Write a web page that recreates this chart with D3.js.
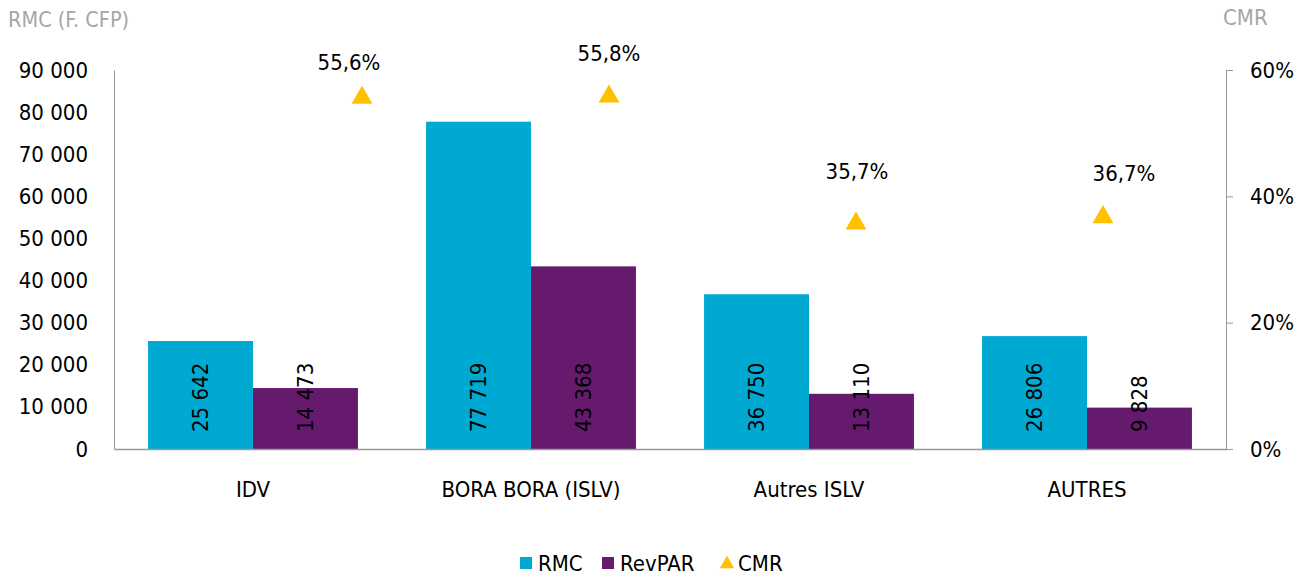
<!DOCTYPE html>
<html>
<head>
<meta charset="utf-8">
<script src="https://cdn.jsdelivr.net/npm/d3@7"></script>
<style>
  body { margin: 0; background: #fff; }
  text { font-family: "DejaVu Sans Condensed", "DejaVu Sans", sans-serif; }
</style>
</head>
<body>
<svg id="chart"></svg>
<script>
var width = 1309;
var height = 579;

var categories = ["IDV", "BORA BORA (ISLV)", "Autres ISLV", "AUTRES"];
var rmc = [25642, 77719, 36750, 26806];
var revpar = [14473, 43368, 13110, 9828];
var cmr = [55.6, 55.8, 35.7, 36.7];
var leftTicks = [0, 10000, 20000, 30000, 40000, 50000, 60000, 70000, 80000, 90000];
var rightTicks = [0, 20, 40, 60];

var plotLeft = 114, plotRight = 1226, plotTop = 70, plotBottom = 449;
var fontSize = 22;
// hand-placed CMR labels (dx, dy from the marker)
var cmrLabelNudge = [[-13, -28], [0, -36], [1, -44], [21, -36]];

var fmtNum = n => d3.format(",")(n).replace(/,/g, " ");
var fmtPct = n => n.toFixed(1).replace(".", ",") + "%";

var svg = d3.select("#chart")
    .attr("width", width)
    .attr("height", height);

var xScale = d3.scaleBand()
    .domain(categories)
    .range([plotLeft, plotRight])
    .paddingInner(0.245)
    .paddingOuter(0.1225);

var yScale = d3.scaleLinear()
    .domain([0, 90000])
    .range([plotBottom, plotTop]);

var y2Scale = d3.scaleLinear()
    .domain([0, 60])
    .range([plotBottom, plotTop]);

// line series sits on its own category positions
var x2Scale = d3.scalePoint()
    .domain(categories)
    .range([362, 1103]);

var half = xScale.bandwidth() / 2;

// bars
svg.append("g").selectAll("rect")
    .data(rmc)
    .enter()
    .append("rect")
    .attr("x", (d, i) => xScale(categories[i]))
    .attr("y", d => yScale(d))
    .attr("width", half)
    .attr("height", d => plotBottom - yScale(d))
    .attr("fill", "#00a9d1");

svg.append("g").selectAll("rect")
    .data(revpar)
    .enter()
    .append("rect")
    .attr("x", (d, i) => xScale(categories[i]) + half)
    .attr("y", d => yScale(d))
    .attr("width", half)
    .attr("height", d => plotBottom - yScale(d))
    .attr("fill", "#661a6e");

// value labels inside bars
function barLabels(data, off) {
    svg.append("g").selectAll("text")
        .data(data)
        .enter()
        .append("text")
        .attr("transform", (d, i) => "translate(" + (xScale(categories[i]) + off + half / 2) + "," + (plotBottom - 17) + ") rotate(-90)")
        .attr("dy", "0.35em")
        .attr("font-size", fontSize)
        .attr("fill", "#000")
        .text(d => fmtNum(d));
}
barLabels(rmc, 0);
barLabels(revpar, half);

// axes
var yAxis = d3.axisLeft(yScale)
    .tickValues(leftTicks)
    .tickSize(0)
    .tickPadding(26)
    .tickFormat(fmtNum);
var gy = svg.append("g")
    .attr("transform", "translate(" + plotLeft + ",0)")
    .call(yAxis);
gy.select(".domain").attr("stroke", "#999");
gy.selectAll("text").attr("font-size", fontSize).attr("fill", "#000").attr("font-family", null);

var y2Axis = d3.axisRight(y2Scale)
    .tickValues(rightTicks)
    .tickSizeInner(7)
    .tickSizeOuter(7)
    .tickPadding(17)
    .tickFormat(d => d + "%");
var gy2 = svg.append("g")
    .attr("transform", "translate(" + plotRight + ",0)")
    .call(y2Axis);
gy2.select(".domain").attr("stroke", "#999");
gy2.selectAll("line").attr("stroke", "#999");
gy2.selectAll("text").attr("font-size", fontSize).attr("fill", "#000").attr("font-family", null);

var xAxis = d3.axisBottom(xScale)
    .tickSize(0)
    .tickSizeOuter(0)
    .tickPadding(32);
var gx = svg.append("g")
    .attr("transform", "translate(0," + plotBottom + ")")
    .call(xAxis);
gx.select(".domain").attr("stroke", "#999").attr("stroke-width", 1.5);
gx.selectAll("text").attr("font-size", fontSize).attr("fill", "#000").attr("font-family", null);

// CMR markers
var tri = d3.symbol().type(d3.symbolTriangle).size(190);
svg.append("g").selectAll("path")
    .data(cmr)
    .enter()
    .append("path")
    .attr("d", tri)
    .attr("transform", (d, i) => "translate(" + x2Scale(categories[i]) + "," + y2Scale(d) + ")")
    .attr("fill", "#ffc000");

svg.append("g").selectAll("text")
    .data(cmr)
    .enter()
    .append("text")
    .attr("x", (d, i) => x2Scale(categories[i]) + cmrLabelNudge[i][0])
    .attr("y", (d, i) => y2Scale(d) + cmrLabelNudge[i][1])
    .attr("text-anchor", "middle")
    .attr("font-size", fontSize)
    .attr("fill", "#000")
    .text(d => fmtPct(d));

// axis titles
svg.append("text")
    .attr("x", 8)
    .attr("y", 27)
    .attr("font-size", 21.5)
    .attr("fill", "#a6a6a6")
    .attr("font-family", "Open Sans, sans-serif")
    .text("RMC (F. CFP)");
svg.append("text")
    .attr("x", 1223)
    .attr("y", 25)
    .attr("font-size", 22)
    .attr("fill", "#a6a6a6")
    .attr("font-family", "Open Sans, sans-serif")
    .text("CMR");

// legend
var legend = svg.append("g").attr("transform", "translate(0,563)");
legend.append("rect").attr("x", 520).attr("y", -6).attr("width", 12).attr("height", 12).attr("fill", "#00a9d1");
legend.append("text").attr("x", 538).attr("dy", "0.35em").attr("font-size", fontSize).text("RMC");
legend.append("rect").attr("x", 602).attr("y", -6).attr("width", 12).attr("height", 12).attr("fill", "#661a6e");
legend.append("text").attr("x", 620).attr("dy", "0.35em").attr("font-size", fontSize).text("RevPAR");
legend.append("path").attr("d", d3.symbol().type(d3.symbolTriangle).size(90)).attr("transform", "translate(727,1)").attr("fill", "#ffc000");
legend.append("text").attr("x", 738).attr("dy", "0.35em").attr("font-size", fontSize).text("CMR");
</script>
</body>
</html>
